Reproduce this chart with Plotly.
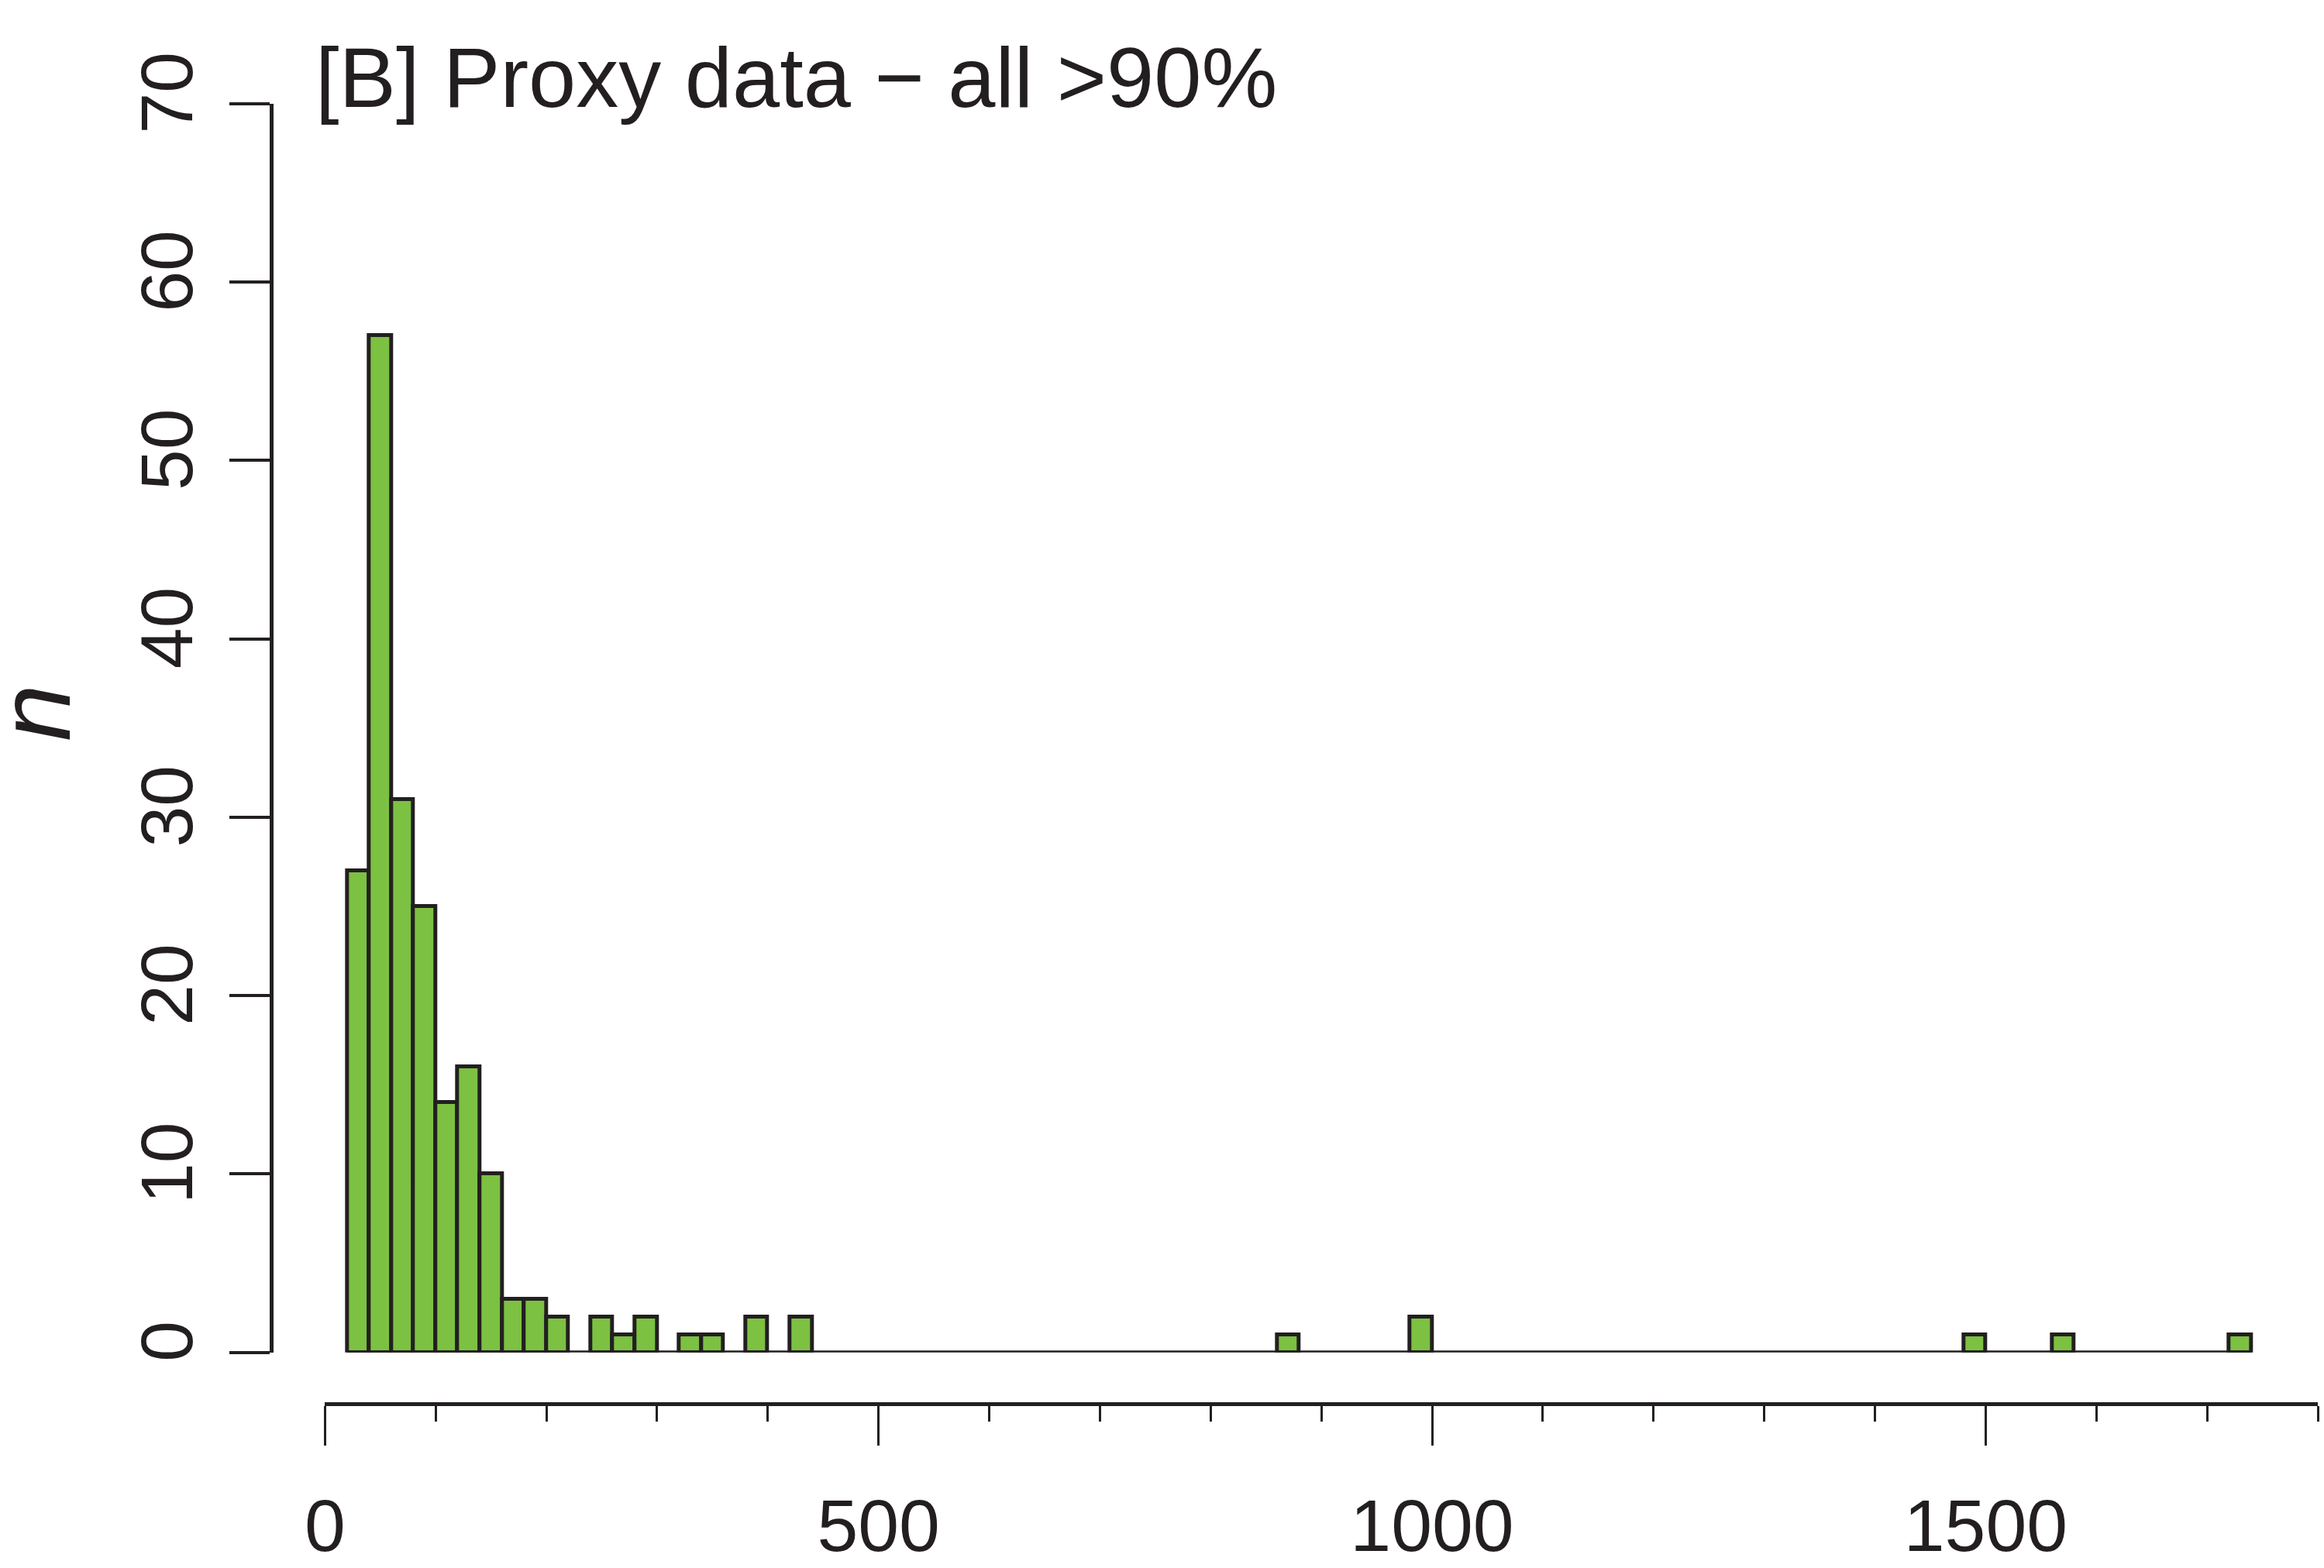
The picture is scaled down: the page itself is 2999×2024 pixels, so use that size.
import plotly.graph_objects as go

# ---- data ----
bin_width = 20
bin_lefts = [20, 40, 60, 80, 100, 120, 140, 160, 180, 200,
             240, 260, 280, 320, 340, 380, 420,
             860, 980, 1480, 1560, 1720]
counts = [27, 57, 31, 25, 14, 16, 10, 3, 3, 2,
          2, 1, 2, 1, 1, 2, 2,
          1, 2, 1, 1, 1]
hist_start = 20
hist_end = 1740

x_major_ticks = [0, 500, 1000, 1500]
y_ticks = [0, 10, 20, 30, 40, 50, 60, 70]
title_text = "[B] Proxy data \u2212 all >90%"
y_label = "n"

INK = "#231f20"
GREEN = "#7cc142"

W, H = 2999, 2024
ML, MR, MT, MB = 350, 8, 134, 212
PW = W - ML - MR
PH = H - MT - MB

centers = [b + bin_width / 2 for b in bin_lefts]

fig = go.Figure()
fig.add_trace(go.Scatter(
    x=[hist_start, hist_end], y=[0, 0], mode="lines",
    line=dict(color=INK, width=5), cliponaxis=False, showlegend=False,
    hoverinfo="skip"))
fig.add_trace(go.Bar(
    x=centers, y=counts, width=bin_width,
    marker=dict(color=GREEN, line=dict(color=INK, width=5)),
    cliponaxis=False, showlegend=False))

x_dom0 = (419.3 - ML) / PW
y_dom0 = (H - MB - 1745.7) / PH

fig.update_layout(
    width=W, height=H,
    margin=dict(l=ML, r=MR, t=MT, b=MB, pad=0, autoexpand=False),
    paper_bgcolor="white", plot_bgcolor="white",
    bargap=0,
    xaxis=dict(
        domain=[x_dom0, 1], range=[0, 1800], anchor="free", position=0,
        automargin=False,
        showgrid=False, zeroline=False, showline=True, linecolor=INK, linewidth=5,
        tickmode="array", tickvals=x_major_ticks, ticktext=[str(v) for v in x_major_ticks],
        ticks="outside", ticklen=51, tickwidth=3, tickcolor=INK,
        minor=dict(ticks="outside", ticklen=20, tickwidth=3, tickcolor=INK,
                   tick0=0, dtick=100, showgrid=False),
        tickfont=dict(family="Liberation Sans Narrow, Liberation Sans, Arial", size=95, color=INK),
        ticklabelstandoff=22,
    ),
    yaxis=dict(
        domain=[y_dom0, 1], range=[0, 70], anchor="free", position=0,
        automargin=False,
        showgrid=False, zeroline=False, showline=True, linecolor=INK, linewidth=5,
        tickmode="array", tickvals=y_ticks, ticktext=[str(v) for v in y_ticks],
        ticks="outside", ticklen=52, tickwidth=4, tickcolor=INK, tickangle=-90,
        tickfont=dict(family="Liberation Sans Narrow, Liberation Sans, Arial", size=95, color=INK),
        ticklabelstandoff=10,
    ),
    annotations=[
        dict(text=title_text, xref="paper", yref="paper",
             x=(405 - ML) / PW, y=(H - MB - 100) / PH,
             xanchor="left", yanchor="middle", showarrow=False,
             font=dict(family="Liberation Sans, Arial", size=110, color=INK)),
        dict(text=y_label, xref="paper", yref="paper",
             x=(44 - ML) / PW, y=(H - MB - 921) / PH,
             xanchor="center", yanchor="middle", showarrow=False, textangle=-90,
             font=dict(family="Liberation Sans, Arial", size=132, color=INK, style="italic")),
    ],
)

fig.write_html("out.html")
